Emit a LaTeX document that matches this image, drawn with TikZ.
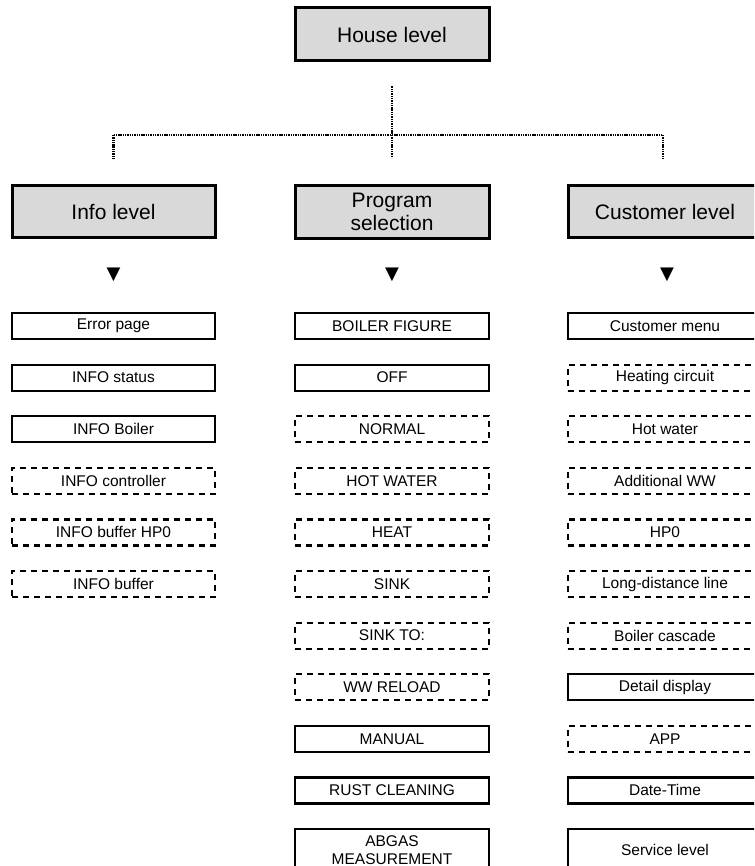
\documentclass[tikz,border=0pt]{standalone}
\usepackage{fontspec}
\setmainfont{Liberation Sans}
\newfontfamily\symfont{DejaVu Sans}
\definecolor{hdrgray}{RGB}{217,217,217}
\tikzset{
  x=1pt, y=-1pt,
  hdr/.style={draw, line width=3pt, fill=hdrgray, minimum height=53pt, inner sep=0pt, align=center, font=\fontsize{21}{23}\selectfont},
  subbox/.style={draw, line width=2.2pt, minimum height=26pt, inner sep=0pt, align=center, font=\fontsize{15.5}{18}\selectfont},
  dashbox/.style={subbox, dash pattern=on 6pt off 5pt},
  tallbox/.style={minimum height=42pt},
  colL/.style={minimum width=203pt},
  colM/.style={minimum width=194pt},
  colR/.style={minimum width=194pt},
  tri/.style={inner sep=0pt, font=\symfont\fontsize{18}{18}\selectfont},
  conn/.style={line width=2.6pt, dash pattern=on 1.4pt off 0.9pt, draw=black}
}
\begin{document}
\begin{tikzpicture}
\clip (0,0) rectangle (754,866);
% header nodes
\node[hdr, colM] (house) at (392,34.5) {House level};
\node[hdr, colL, minimum height=52pt] (info) at (113.5,212) {Info level};
\node[hdr, colM] (prog) at (392,212) {Program\\selection};
\node[hdr, colR, minimum height=52pt] (cust) at (665,212) {Customer level};
% connectors
\coordinate (jc) at (392,135);
\coordinate (jl) at (113.5,135);
\coordinate (jr) at (663,135);
\draw[conn, shorten <=24pt] (house.south) -- (jc);
\draw[conn] (jl) -- (jr);
\draw[conn, shorten >=26pt] (jl) -- (info.north);
\draw[conn, shorten >=26pt] (jc) -- (prog.north);
\draw[conn, shorten >=26pt] (jr) -- (jr |- cust.north);
% triangles
\node[tri] (tL) at (113.5,275) {▼};
\node[tri] (tM) at (392,275) {▼};
\node[tri] (tR) at (667,275) {▼};
% left column
\node[subbox, colL] (l1) at (113.5,326) {Error page};
\node[subbox, colL] (l2) at (113.5,377.6) {INFO status};
\node[subbox, colL] (l3) at (113.5,429.2) {INFO Boiler};
\node[dashbox, colL] (l4) at (113.5,480.8) {INFO controller};
\node[dashbox, colL] (l5) at (113.5,532.4) {INFO buffer HP0};
\node[dashbox, colL] (l6) at (113.5,584) {INFO buffer};
% middle column
\node[subbox, colM] (m1) at (392,326) {BOILER FIGURE};
\node[subbox, colM] (m2) at (392,377.6) {OFF};
\node[dashbox, colM] (m3) at (392,429.2) {NORMAL};
\node[dashbox, colM] (m4) at (392,480.8) {HOT WATER};
\node[dashbox, colM] (m5) at (392,532.4) {HEAT};
\node[dashbox, colM] (m6) at (392,584) {SINK};
\node[dashbox, colM] (m7) at (392,635.6) {SINK TO:};
\node[dashbox, colM] (m8) at (392,687.2) {WW RELOAD};
\node[subbox, colM] (m9) at (392,738.8) {MANUAL};
\node[subbox, colM] (m10) at (392,790.4) {RUST CLEANING};
\node[subbox, colM, tallbox] (m11) at (392,850) {ABGAS\\MEASUREMENT};
% right column
\node[subbox, colR] (r1) at (665,326) {Customer menu};
\node[dashbox, colR] (r2) at (665,377.6) {Heating circuit};
\node[dashbox, colR] (r3) at (665,429.2) {Hot water};
\node[dashbox, colR] (r4) at (665,480.8) {Additional WW};
\node[dashbox, colR] (r5) at (665,532.4) {HP0};
\node[dashbox, colR] (r6) at (665,584) {Long-distance line};
\node[dashbox, colR] (r7) at (665,635.6) {Boiler cascade};
\node[subbox, colR] (r8) at (665,687.2) {Detail display};
\node[dashbox, colR] (r9) at (665,738.8) {APP};
\node[subbox, colR] (r10) at (665,790.4) {Date-Time};
\node[subbox, colR, tallbox] (r11) at (665,850) {Service level};
\end{tikzpicture}
\end{document}
